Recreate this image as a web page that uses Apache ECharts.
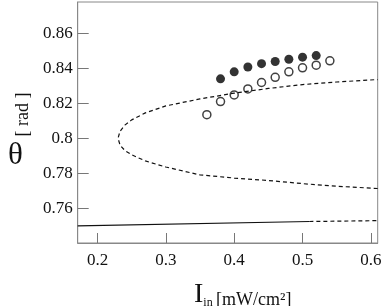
<!DOCTYPE html>
<html><head><meta charset="utf-8">
<script src="https://cdn.jsdelivr.net/npm/echarts@6/dist/echarts.min.js"></script>
<style>html,body{margin:0;padding:0;background:#fff}#c{width:382px;height:306px}</style>
</head><body><div id="c"></div>
<script>
// x tick labels and y tick labels
var xTicks = [0.2, 0.3, 0.4, 0.5, 0.6];
var yTicks = [0.76, 0.78, 0.80, 0.82, 0.84, 0.86];
// filled circles (increasing branch)
var filledX = [0.38, 0.40, 0.42, 0.44, 0.46, 0.48, 0.50, 0.52];
var filledY = [0.834, 0.838, 0.8408, 0.8427, 0.8439, 0.8452, 0.8464, 0.8473];
// open circles
var openX = [0.36, 0.38, 0.40, 0.42, 0.44, 0.46, 0.48, 0.50, 0.52, 0.54];
var openY = [0.8135, 0.821, 0.8248, 0.8282, 0.8319, 0.8349, 0.838, 0.8403, 0.8418, 0.8443];
// dashed turning curve (lower branch -> nose -> upper branch)
var curveX = [0.61, 0.55, 0.50, 0.45, 0.40, 0.35, 0.30, 0.27, 0.25, 0.24, 0.233, 0.230, 0.233, 0.24, 0.25, 0.27, 0.30, 0.35, 0.40, 0.45, 0.50, 0.55, 0.61];
var curveY = [0.7712, 0.7725, 0.774, 0.7758, 0.7772, 0.7790, 0.7835, 0.7870, 0.7905, 0.7930, 0.7960, 0.800, 0.8040, 0.8075, 0.8105, 0.8145, 0.8185, 0.8225, 0.8258, 0.8285, 0.8307, 0.8322, 0.8336];
// bottom line: solid part then dashed part
var lowSolidX = [0.171, 0.51];
var lowSolidY = [0.7498, 0.7523];
var lowDashX = [0.51, 0.61];
var lowDashY = [0.7523, 0.7528];

function zip(a, b) { return a.map(function (v, i) { return [v, b[i]]; }); }

var serif = "'Liberation Serif','Times New Roman',serif";
var chart = echarts.init(document.getElementById('c'));
chart.setOption({
  animation: false,
  grid: { left: 77.7, top: 2, width: 300, height: 241, show: true, borderColor: '#888', borderWidth: 1,
          containLabel: false, outerBoundsMode: 'none' },
  xAxis: {
    type: 'value', min: 0.171, max: 0.61,
    splitLine: { show: false },
    axisLine: { lineStyle: { color: '#888' } },
    axisTick: { inside: true, length: 10, lineStyle: { color: '#777' }, customValues: xTicks },
    axisLabel: { customValues: xTicks, margin: 9, fontFamily: serif, fontSize: 17, color: '#111' },
    name: '{I|I}{s|in} {u|[mW/cm²]}',
    nameLocation: 'middle', nameGap: 38,
    nameTextStyle: {
      padding: [0, 0, 0, 30],
      rich: {
        I: { fontFamily: serif, fontSize: 28, color: '#111', verticalAlign: 'bottom' },
        s: { fontFamily: serif, fontSize: 12, color: '#111', verticalAlign: 'bottom' },
        u: { fontFamily: serif, fontSize: 18, color: '#111', verticalAlign: 'bottom' }
      }
    }
  },
  yAxis: {
    type: 'value', min: 0.740, max: 0.878,
    splitLine: { show: false },
    axisLine: { lineStyle: { color: '#888' } },
    axisTick: { inside: true, length: 11, lineStyle: { color: '#777' }, customValues: yTicks },
    axisLabel: { customValues: yTicks, margin: 5, fontFamily: serif, fontSize: 17, color: '#111' },
    name: '[ rad ]', nameLocation: 'middle', nameGap: 44,
    nameTextStyle: { fontFamily: serif, fontSize: 18, color: '#111', padding: [0, 0, 0, 16] }
  },
  graphic: [{
    type: 'text', left: 8, top: 140,
    style: { text: 'θ', font: '31px ' + serif, fill: '#111' }
  }],
  series: [
    { type: 'line', data: zip(curveX, curveY), showSymbol: false, symbol: 'none',
      lineStyle: { color: '#111', width: 1.2, type: [4, 3] } },
    { type: 'line', data: zip(lowSolidX, lowSolidY), showSymbol: false, symbol: 'none',
      lineStyle: { color: '#111', width: 1.1 } },
    { type: 'line', data: zip(lowDashX, lowDashY), showSymbol: false, symbol: 'none',
      lineStyle: { color: '#111', width: 1.2, type: [4, 3] } },
    { type: 'scatter', data: zip(openX, openY), symbol: 'circle', symbolSize: 8,
      itemStyle: { color: '#fff', borderColor: '#111', borderWidth: 1.5 } },
    { type: 'scatter', data: zip(filledX, filledY), symbol: 'circle', symbolSize: 9,
      itemStyle: { color: '#000' } }
  ]
});
</script></body></html>
